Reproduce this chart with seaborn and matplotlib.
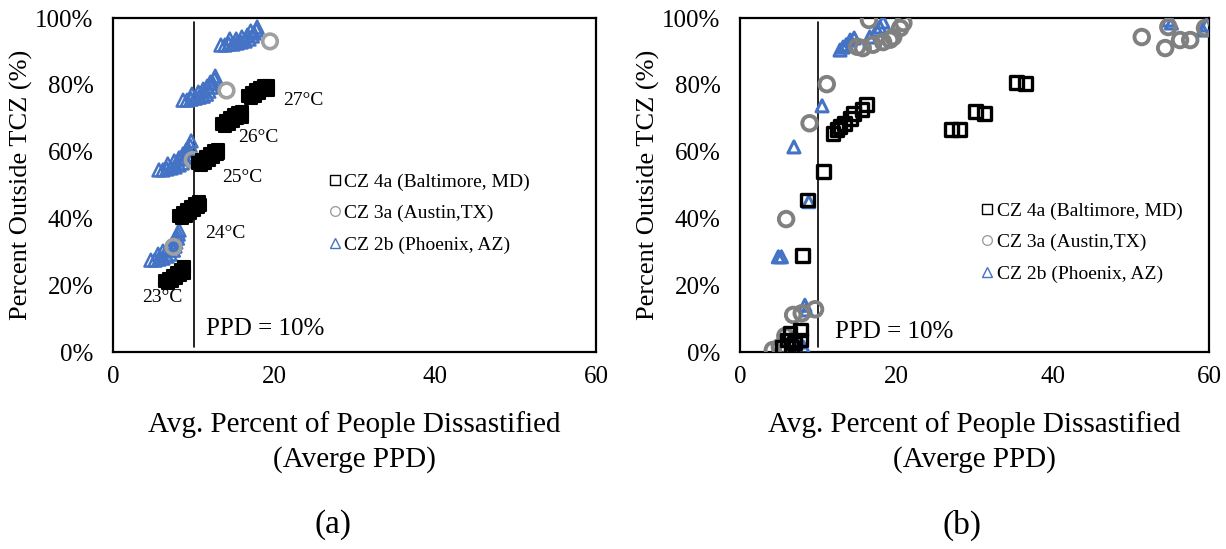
import matplotlib
matplotlib.use("Agg")
import matplotlib.pyplot as plt
import seaborn as sns
import pandas as pd
from matplotlib.lines import Line2D
from matplotlib.ticker import FuncFormatter

# ---------------- data : panel (a) ----------------
# CZ 4a (Baltimore) - five setpoint clusters 23..27 C
bal_a_x = [6.5, 7.0, 7.5, 8.0, 8.5, 8.8, 6.8, 7.3, 7.8, 8.3, 8.8,
           8.2, 8.7, 9.2, 9.7, 10.2, 10.7, 8.6, 9.1, 9.6, 10.1, 10.6, 10.8,
           10.6, 11.1, 11.6, 12.1, 12.6, 13.0, 10.9, 11.4, 11.9, 12.4, 12.9, 13.0,
           13.5, 14.0, 14.5, 15.0, 15.5, 16.0, 13.9, 14.4, 14.9, 15.4, 15.9, 16.0,
           16.8, 17.3, 17.8, 18.3, 18.8, 19.3, 17.1, 17.6, 18.1, 18.6, 19.1, 19.3]
bal_a_y = [21.3, 21.9, 22.8, 23.7, 24.6, 25.4, 20.7, 21.3, 22.2, 23.1, 23.7,
           40.7, 41.6, 42.5, 43.4, 44.3, 44.9, 40.1, 40.7, 41.6, 42.5, 43.4, 44.0,
           56.6, 57.5, 58.4, 59.3, 60.2, 60.5, 56.0, 56.6, 57.5, 58.4, 59.3, 59.6,
           68.3, 69.2, 70.1, 71.0, 71.6, 71.9, 67.7, 68.3, 69.2, 70.1, 71.0, 70.4,
           76.6, 77.5, 78.4, 79.0, 79.6, 79.6, 76.0, 76.6, 77.5, 78.4, 79.0, 78.4]
# CZ 3a (Austin)
aus_a_x = [19.5, 14.1, 9.9, 7.5]
aus_a_y = [93.0, 78.3, 57.5, 31.5]
# CZ 2b (Phoenix)
phx_a_x = [13.4, 13.9, 14.4, 14.9, 15.4, 15.9, 16.4, 16.9, 17.3, 17.5, 17.8, 17.9, 14.5, 15.3, 16.0, 16.7, 17.1,
           8.7, 9.2, 9.7, 10.2, 10.7, 11.2, 11.6, 11.9, 12.2, 12.4, 12.6, 12.7, 9.8, 10.6, 11.2, 11.7, 12.1,
           5.7, 6.2, 6.7, 7.2, 7.7, 8.2, 8.6, 8.9, 9.2, 9.4, 9.6, 9.7, 6.8, 7.6, 8.2, 8.7, 9.1,
           4.7, 5.2, 5.7, 6.2, 6.7, 7.1, 7.5, 7.7, 7.8, 8.0, 8.1, 8.2, 5.6, 6.2, 6.8, 7.3, 7.7]
phx_a_y = [91.9, 91.9, 92.2, 92.2, 92.5, 92.8, 93.1, 93.7, 94.6, 95.5, 96.4, 97.3, 93.7, 93.7, 94.3, 94.9, 96.1,
           75.4, 75.4, 75.7, 76.0, 76.3, 76.6, 77.2, 78.1, 79.3, 80.5, 81.7, 82.6, 77.2, 77.8, 78.7, 79.6, 80.8,
           54.5, 54.5, 54.8, 55.1, 55.4, 56.0, 56.6, 57.8, 59.0, 60.5, 61.7, 63.2, 56.3, 57.2, 58.1, 59.3, 60.5,
           27.5, 27.5, 27.8, 28.1, 28.7, 29.3, 30.5, 31.7, 32.9, 34.1, 35.3, 36.5, 29.3, 30.2, 31.1, 32.3, 33.8]
temp_labels = ["23°C", "24°C", "25°C", "26°C", "27°C"]
temp_label_x = [6.1, 13.9, 16.0, 18.0, 23.6]
temp_label_y = [16.2, 35.6, 52.1, 64.1, 75.4]

# ---------------- data : panel (b) ----------------
bal_b_x = [10.7, 8.6, 8.0, 7.7, 6.4, 6.0, 5.4, 7.0, 7.7, 6.6,
           11.9, 12.4, 12.8, 13.4, 14.1, 14.5, 15.6, 16.2,
           27.1, 28.1, 30.1, 31.3, 35.4, 36.5]
bal_b_y = [54.0, 45.5, 29.0, 6.6, 5.7, 3.6, 1.5, 2.7, 3.6, 1.5,
           65.5, 66.5, 67.4, 68.5, 70.0, 71.5, 72.5, 74.0,
           66.5, 66.5, 72.0, 71.3, 80.8, 80.5]
aus_b_x = [11.1, 8.9, 5.9, 6.8, 7.9, 9.6, 4.2, 5.1, 5.8,
           16.5, 15.0, 15.7, 17.0, 18.3, 19.2, 19.6, 20.5, 20.9,
           51.4, 54.4, 54.8, 56.3, 57.6, 59.5]
aus_b_y = [80.2, 68.5, 39.8, 11.1, 11.6, 12.8, 0.6, 1.5, 4.8,
           99.4, 91.4, 91.0, 92.0, 92.8, 93.5, 94.3, 97.0, 98.5,
           94.3, 91.0, 97.3, 93.4, 93.4, 97.0]
phx_b_x = [12.8, 13.2, 13.6, 14.1, 14.6, 16.6, 17.5, 17.9, 18.3,
           10.5, 6.9, 8.8, 4.9, 5.3, 8.3, 8.5, 8.1, 7.6,
           54.8, 55.2, 59.2, 59.7]
phx_b_y = [90.4, 91.3, 92.0, 93.4, 94.0, 94.3, 96.4, 97.3, 98.8,
           73.7, 61.4, 45.0, 28.5, 28.5, 14.0, 12.6, 1.5, 3.0,
           99.4, 98.5, 96.4, 97.9]

legend_labels = ["CZ 4a (Baltimore, MD)", "CZ 3a (Austin,TX)", "CZ 2b (Phoenix, AZ)"]
x_ticks = [0, 20, 40, 60]
y_ticks = [0, 20, 40, 60, 80, 100]

# ---------------- style ----------------
sns.set_theme(style="white")
plt.rcParams['font.family'] = ['Liberation Serif', 'DejaVu Serif']
plt.rcParams['text.color'] = 'black'
plt.rcParams['axes.labelcolor'] = 'black'
plt.rcParams['xtick.color'] = 'black'
plt.rcParams['ytick.color'] = 'black'

BLACK = "#000000"
GRAY_A = "#a0a0a0"
GRAY_B = "#808080"
BLUE = "#4472C4"

fig = plt.figure(figsize=(12.26, 5.49), dpi=100)
axA = fig.add_axes([0.0922, 0.3588, 0.3939, 0.6084])
axB = fig.add_axes([0.6036, 0.3588, 0.3825, 0.6084])

# panel (a)
sns.scatterplot(x=phx_a_x, y=phx_a_y, ax=axA, marker="^", s=85,
                facecolors="none", edgecolors=BLUE, linewidths=1.8, zorder=3)
sns.scatterplot(x=aus_a_x, y=aus_a_y, ax=axA, marker="o", s=110,
                facecolors="none", edgecolors=GRAY_A, linewidths=2.6, zorder=4)
sns.scatterplot(x=bal_a_x, y=bal_a_y, ax=axA, marker="s", s=75,
                color=BLACK, edgecolors=BLACK, linewidths=1.5, zorder=5)
for t, tx, ty in zip(temp_labels, temp_label_x, temp_label_y):
    axA.text(tx, ty, t, fontsize=14, ha="center", va="center", color="black")

# panel (b)
sns.scatterplot(x=phx_b_x, y=phx_b_y, ax=axB, marker="^", s=75,
                facecolors="none", edgecolors=BLUE, linewidths=2.2, zorder=3)
sns.scatterplot(x=aus_b_x, y=aus_b_y, ax=axB, marker="o", s=110,
                facecolors="none", edgecolors=GRAY_B, linewidths=2.8, zorder=4)
sns.scatterplot(x=bal_b_x, y=bal_b_y, ax=axB, marker="s", s=85,
                facecolors="none", edgecolors=BLACK, linewidths=2.4, zorder=5)

handles = [
    Line2D([], [], marker="s", linestyle="none", markerfacecolor="none",
           markeredgecolor="black", markersize=7, markeredgewidth=1.0),
    Line2D([], [], marker="o", linestyle="none", markerfacecolor="none",
           markeredgecolor=GRAY_A, markersize=7, markeredgewidth=1.0),
    Line2D([], [], marker="^", linestyle="none", markerfacecolor="none",
           markeredgecolor=BLUE, markersize=7, markeredgewidth=1.0),
]

for ax, leg_anchor, ppd_xy, wpx in [(axA, (0.447, 0.535), (11.6, 6.9), 483),
                                    (axB, (0.514, 0.448), (12.2, 6.0), 469)]:
    ax.set_xlim(0, 60)
    ax.set_ylim(0, 100)
    ax.set_xticks(x_ticks)
    ax.set_yticks(y_ticks)
    ax.yaxis.set_major_formatter(FuncFormatter(lambda v, p: f"{v:.0f}%"))
    ax.tick_params(axis="both", length=0, labelsize=18, colors="black")
    ax.tick_params(axis="y", pad=14)
    ax.tick_params(axis="x", pad=10)
    for sp in ax.spines.values():
        sp.set_visible(True)
        sp.set_color("black")
        sp.set_linewidth(1.6)
    ax.axvline(10, ymin=0.015, ymax=0.988, color="black", linewidth=1.2, zorder=2)
    ax.text(ppd_xy[0], ppd_xy[1], "PPD = 10%", fontsize=18, ha="left", va="center")
    ax.set_xlabel("Avg. Percent of People Dissastified\n(Averge PPD)", fontsize=21,
                  labelpad=17, linespacing=1.35)
    ax.set_ylabel("Percent Outside TCZ (%)", fontsize=19)
    ax.yaxis.set_label_coords(-80 / wpx, 0.5)
    ax.legend(handles, legend_labels, loc="upper left", bbox_to_anchor=leg_anchor,
              frameon=False, fontsize=14, handlelength=0.6, handletextpad=0.2,
              labelspacing=0.7, borderpad=0, borderaxespad=0)
    ax.grid(False)

fig.text(333 / 1226, 1 - 525 / 549, "(a)", fontsize=24, ha="center", va="center")
fig.text(962 / 1226, 1 - 525 / 549, "(b)", fontsize=24, ha="center", va="center")

fig.savefig("out.png", dpi=100, facecolor="white")
